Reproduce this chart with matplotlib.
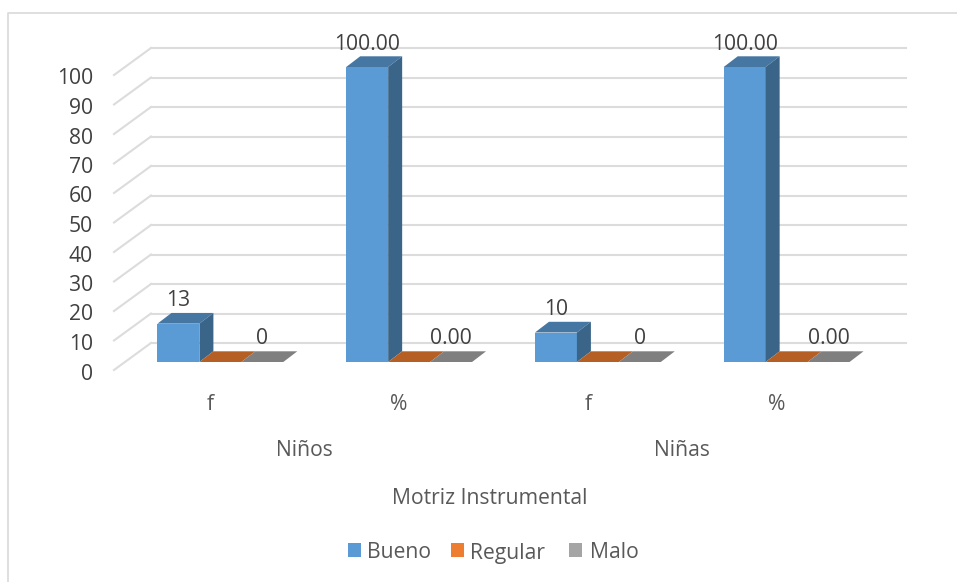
import matplotlib
matplotlib.use("Agg")
import matplotlib.pyplot as plt
from matplotlib.patches import Polygon, Rectangle
from matplotlib.transforms import ScaledTranslation

FIG_W, FIG_H = 957, 582
DPI = 100

CATEGORIES = ["f", "%", "f", "%"]
GROUPS = ["Niños", "Niñas"]
SERIES = ["Bueno", "Regular", "Malo"]
BUENO = [13, 100, 10, 100]
REGULAR = [0, 0, 0, 0]
MALO = [0, 0, 0, 0]
VALUE_LABELS = [
    ["13", "100.00", "10", "100.00"],
    ["", "", "", ""],
    ["0", "0.00", "0", "0.00"],
]
YTICKS = list(range(0, 101, 10))
X_TITLE = "Motriz Instrumental"

FRONT = ["#5b9bd5", "#ed7d31", "#a5a5a5"]
TOP = ["#4677a3", "#b55f25", "#7f7f7f"]
SIDE = ["#3a6488", "#a05320", "#6f6f6f"]
GRID = "#dcdcdc"
TEXT = "#404040"
TEXT_LIGHT = "#595959"
FONT_SIZE = 15.2

plt.rcParams["font.family"] = ["Open Sans", "DejaVu Sans"]


def px(x, y):
    # pixel position from the top-left corner, as figure fraction
    return x / FIG_W, 1 - y / FIG_H


def shifted(ax, dx, dy):
    # data transform moved by a pixel offset, dy counted upward
    return ax.transData + ScaledTranslation(dx / DPI, dy / DPI, ax.figure.dpi_scale_trans)


def draw_box(ax, x0, x1, value, i):
    off = shifted(ax, 14, 10.7)
    top = [(x0, value), (x1, value)]
    ax.add_patch(Rectangle((x0, 0), x1 - x0, value, fc=FRONT[i], ec="none", zorder=4, clip_on=False))
    # top face, sheared back into the depth of the chart
    verts = ax.transData.transform(top).tolist() + off.transform(top[::-1]).tolist()
    ax.add_patch(Polygon(verts, closed=True, transform=None, fc=TOP[i], ec="none", zorder=4, clip_on=False))
    if value > 0:
        side = [(x1, value), (x1, 0)]
        verts = ax.transData.transform(side).tolist() + off.transform(side[::-1]).tolist()
        ax.add_patch(Polygon(verts, closed=True, transform=None, fc=SIDE[i], ec="none", zorder=4, clip_on=False))


def main():
    fig = plt.figure(figsize=(FIG_W / DPI, FIG_H / DPI), dpi=DPI)

    # chart frame: left and top edges only, the rest runs off the image
    frame_x0, frame_y0 = px(8, 582)
    frame_x1, frame_y1 = px(957, 12.5)
    fig.add_artist(plt.Line2D([frame_x0, frame_x0, frame_x1],
                              [frame_y0, frame_y1, frame_y1],
                              color="#d9d9d9", lw=1.2))

    left, bottom = px(126, 362)
    right, top = px(881, 67)
    ax = fig.add_axes([left, bottom, right - left, top - bottom])
    ax.set_xlim(-0.5, 3.5)
    ax.set_ylim(0, 100)
    ax.axis("off")

    # back wall gridlines and their slanted run to the front edge
    back = shifted(ax, 25, 19)
    front = shifted(ax, -12, -8)
    for tick in YTICKS:
        ax.plot([-0.5, 3.5], [tick, tick], transform=back, color=GRID, lw=1.5, zorder=1, clip_on=False)
        pts = [back.transform((-0.5, tick)), front.transform((-0.5, tick))]
        ax.plot([p[0] for p in pts], [p[1] for p in pts], transform=None, color=GRID, lw=1.5, zorder=1, clip_on=False)
        fx, fy = front.transform((-0.5, tick))
        ax.annotate(str(tick), xy=(fx, fy), xycoords="figure pixels", xytext=(-21, -4), textcoords="offset pixels",
                    ha="right", va="center", fontsize=FONT_SIZE, color=TEXT, zorder=6, annotation_clip=False)

    width = 1 / 4.5
    for i, values in enumerate([BUENO, REGULAR, MALO]):
        for c, value in enumerate(values):
            x0 = c - 1.5 * width + i * width
            draw_box(ax, x0, x0 + width, value, i)
            label = VALUE_LABELS[i][c]
            if label:
                lx = x0 + width / 2
                ax.annotate(label, xy=(lx, value), xytext=(0, 23), textcoords="offset pixels",
                            ha="center", va="center", fontsize=FONT_SIZE, color=TEXT, zorder=6, annotation_clip=False)

    for c, name in enumerate(CATEGORIES):
        ax.annotate(name, xy=(c, 0), xytext=(-10, -42), textcoords="offset pixels",
                    ha="center", va="center", fontsize=FONT_SIZE, color=TEXT_LIGHT, annotation_clip=False)
    for g, name in enumerate(GROUPS):
        ax.annotate(name, xy=(0.5 + 2 * g, 0), xytext=(-10, -88), textcoords="offset pixels",
                    ha="center", va="center", fontsize=FONT_SIZE, color=TEXT_LIGHT, annotation_clip=False)

    fig.text(*px(490, 498), X_TITLE, ha="center", va="center", fontsize=FONT_SIZE, color=TEXT_LIGHT)

    # legend squares and labels
    legend_x = [(348, 367), (451, 470), (569, 590)]
    for (sq, tx), name, color in zip(legend_x, SERIES, FRONT):
        sx, sy = px(sq, 557)
        fig.add_artist(Rectangle((sx, sy), 13 / FIG_W, 14 / FIG_H, transform=fig.transFigure, fc=color, ec="none"))
        fig.text(*px(tx, 553), name, ha="left", va="center", fontsize=FONT_SIZE, color=TEXT_LIGHT)

    fig.savefig("out.png", dpi=DPI)
    plt.close(fig)


if __name__ == "__main__":
    main()
